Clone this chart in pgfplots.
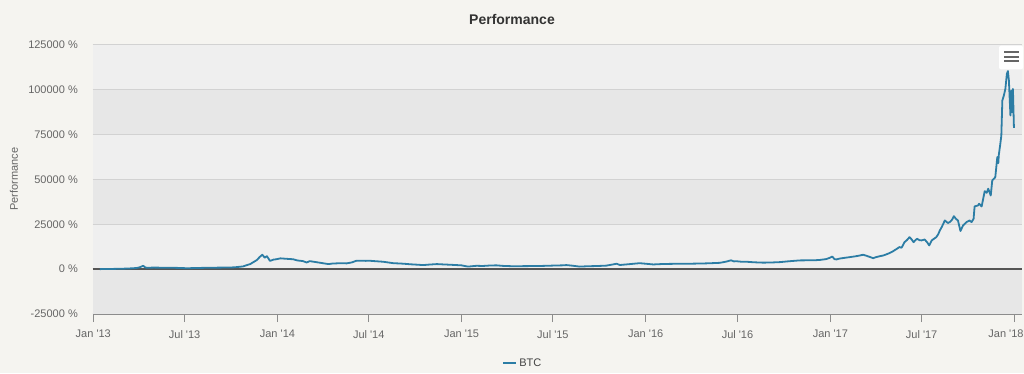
\documentclass[border=0pt]{standalone}
\usepackage{pgfplots}
\pgfplotsset{compat=1.18}
\usepackage{fontspec}
\setmainfont{Liberation Sans}
\definecolor{pagebg}{RGB}{245,244,240}
\definecolor{bandlight}{RGB}{239,239,239}
\definecolor{banddark}{RGB}{231,231,231}
\definecolor{gridc}{RGB}{210,210,210}
\definecolor{zeroc}{RGB}{85,85,85}
\definecolor{axisc}{RGB}{140,140,140}
\definecolor{labc}{RGB}{102,102,102}
\definecolor{titlec}{RGB}{51,51,51}
\definecolor{legc}{RGB}{68,68,68}
\definecolor{btc}{RGB}{44,125,165}
\begin{document}
\begin{tikzpicture}[x=1bp,y=1bp]
\fill[pagebg] (0,0) rectangle (1024,373);
\node[font=\fontsize{14bp}{16bp}\selectfont\bfseries, text=titlec] at (512,354) {Performance};
\begin{axis}[
  at={(92.5bp,59bp)}, anchor=south west,
  scale only axis, width=929.5bp, height=269.3bp,
  xmin=-1.6, xmax=1841, ymin=-25000, ymax=125000,
  axis x line*=bottom, axis y line*=left,
  y axis line style={draw=none},
  x axis line style={axisc, line width=1.3bp},
  scaled y ticks=false, scaled x ticks=false,
  ytick={-25000,0,25000,50000,75000,100000,125000},
  yticklabels={-25000 \%,0 \%,25000 \%,50000 \%,75000 \%,100000 \%,125000 \%},
  xtick={0,181,365,546,730,911,1095,1277,1461,1642,1826},
  xticklabels={Jan \textquotesingle13,Jul \textquotesingle13,Jan \textquotesingle14,Jul \textquotesingle14,Jan \textquotesingle15,Jul \textquotesingle15,Jan \textquotesingle16,Jul \textquotesingle16,Jan \textquotesingle17,Jul \textquotesingle17,\kern-17bp Jan \textquotesingle18},
  tick label style={font=\fontsize{11bp}{13bp}\selectfont, text=labc},
  yticklabel style={anchor=east, inner sep=0pt, xshift=-6.5bp},
  xticklabel style={anchor=north, inner sep=0pt, yshift=-8bp},
  xtick style={axisc, line width=1bp}, ytick style={draw=none},
  tick align=outside, major tick length=8bp,
  ylabel={Performance},
  ylabel style={at={(axis description cs:-0.0845,0.5)}, anchor=center, rotate=0, font=\fontsize{11bp}{13bp}\selectfont, text=labc},
  legend style={at={(axis description cs:0.463,-0.182)}, anchor=center, draw=none, fill=none, font=\fontsize{11bp}{13bp}\selectfont, text=legc, inner sep=0pt},
  legend image code/.code={\draw[#1] (0bp,0bp) -- (13bp,0bp);},
]
\fill[banddark] (axis cs:-1.6,-25000) rectangle (axis cs:1841,0);
\fill[bandlight] (axis cs:-1.6,0) rectangle (axis cs:1841,25000);
\fill[banddark] (axis cs:-1.6,25000) rectangle (axis cs:1841,50000);
\fill[bandlight] (axis cs:-1.6,50000) rectangle (axis cs:1841,75000);
\fill[banddark] (axis cs:-1.6,75000) rectangle (axis cs:1841,100000);
\fill[bandlight] (axis cs:-1.6,100000) rectangle (axis cs:1841,125000);
\draw[gridc, line width=1bp] (axis cs:-1.6,25000) -- (axis cs:1841,25000);
\draw[gridc, line width=1bp] (axis cs:-1.6,50000) -- (axis cs:1841,50000);
\draw[gridc, line width=1bp] (axis cs:-1.6,75000) -- (axis cs:1841,75000);
\draw[gridc, line width=1bp] (axis cs:-1.6,100000) -- (axis cs:1841,100000);
\draw[gridc, line width=1bp] (axis cs:-1.6,124930) -- (axis cs:1841,124930);
\draw[zeroc, line width=1.3bp] (axis cs:-1.6,0) -- (axis cs:1841,0);
\addplot[btc, line width=1.8bp, line join=round] table {
13 0
22 40
30 60
45 150
60 250
75 420
85 600
92 1000
96 1500
99 1840
102 1100
106 700
112 800
120 850
135 800
150 750
165 700
175 600
185 500
195 550
210 650
225 750
240 800
255 850
270 900
280 1000
290 1300
297 1500
305 2300
311 2800
318 4000
324 5000
330 6800
335 8000
338 7000
340 6400
344 7200
347 6000
350 4650
353 4800
357 5300
363 5500
371 6000
380 5800
390 5600
396 5500
405 4800
415 4500
423 3700
429 4450
437 4100
446 3700
455 3300
466 2800
474 3100
482 3200
492 3300
502 3200
512 3700
521 4600
530 4700
540 4600
548 4650
560 4400
575 4100
585 3700
595 3300
610 3100
620 2900
628 2700
640 2500
654 2250
665 2500
681 2800
695 2600
710 2400
720 2250
730 2100
737 1700
743 1400
750 1600
760 1850
772 1750
786 2000
799 2100
812 1800
832 1600
850 1650
870 1700
885 1750
899 1850
915 2000
930 2100
938 2250
950 1900
964 1400
980 1600
995 1700
1010 1850
1017 1950
1030 2600
1037 3000
1044 2300
1060 2700
1075 3100
1083 3300
1095 3000
1110 2600
1125 2800
1140 2900
1163 3000
1180 3000
1200 3100
1215 3200
1229 3350
1242 3500
1255 4200
1264 4900
1270 4300
1275 4400
1285 4100
1295 4100
1310 3800
1328 3600
1345 3700
1361 3900
1380 4400
1400 4850
1415 4900
1427 4900
1440 5100
1453 5600
1460 6300
1465 7000
1469 5600
1473 5400
1480 5900
1490 6300
1500 6700
1510 7100
1518 7500
1526 8000
1533 7400
1540 6700
1546 6100
1552 6700
1559 7200
1566 7600
1572 8200
1578 8900
1585 9900
1590 10800
1595 11700
1598 12300
1602 11900
1605 13300
1608 15000
1613 16200
1618 17800
1622 16600
1626 15000
1630 16200
1633 16900
1638 16100
1642 16000
1648 16500
1653 14900
1657 13200
1662 16000
1666 16800
1671 17800
1675 19500
1678 21500
1682 23500
1688 27100
1694 25700
1698 26200
1702 27400
1706 29500
1710 28000
1714 27100
1719 21200
1724 24300
1731 26200
1737 27100
1741 26200
1745 28000
1747 34900
1754 35500
1756 36400
1761 34900
1767 43400
1771 42500
1774 44800
1779 41000
1782 49400
1788 51200
1792 62400
1794 59000
1795 63600
1798 69800
1800 74400
1802 93900
1805 96700
1808 100400
1811 108800
1813 110300
1815 105100
1818 85600
1820 99500
1821 87400
1823 100400
1824 89300
1825 78700
};
\addlegendentry{BTC}
\end{axis}
\fill[white, rounded corners=2bp] (999,303.7) rectangle (1023,327.3);
\foreach \yy in {312,316.3,320.7} \draw[labc, line width=2bp] (1004.3,\yy) -- (1019.3,\yy);
\pgfresetboundingbox
\useasboundingbox (0,0) rectangle (1024,373);
\end{tikzpicture}
\end{document}
